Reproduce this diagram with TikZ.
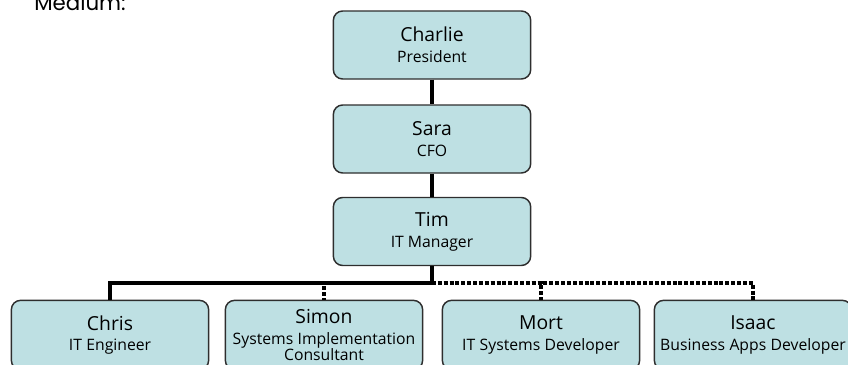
\documentclass[tikz,border=0pt]{standalone}
\usepackage{fontspec}
\setmainfont{Open Sans}
\newfontfamily\headfont{Poppins}
\usepackage{tikz}
\usetikzlibrary{positioning}
\definecolor{boxteal}{HTML}{BEE0E3}
\definecolor{boxline}{HTML}{2E2E2E}
\tikzset{
  % organisation chart
  person/.style={draw=boxline,fill=boxteal,line width=1.1pt,rounded corners=7pt,
                 minimum width=148pt,minimum height=51pt,align=center,inner sep=1pt},
  staff/.style={person,minimum width=146pt,minimum height=52pt,text width=146pt},
  tie/.style={draw=black,line width=3pt},
  dotted tie/.style={draw=black,line width=3pt,dash pattern=on 3pt off 1.4pt},
}
\newcommand{\namefont}{\fontsize{14.5}{16}\selectfont}
\newcommand{\titlefont}{\fontsize{11.8}{14}\selectfont}
\newcommand{\who}[2]{\namefont #1\\[3.5pt]\titlefont #2}
\begin{document}
\begin{tikzpicture}[x=0.75pt,y=-0.75pt]
\useasboundingbox (0,0) rectangle (848,364);
  \node[anchor=base west,inner sep=0pt,font=\headfont\fontsize{16}{18}\selectfont] (medium) at (34,11) {Medium:};
  % chain of command
  \node[person] (charlie) at (432,45) {\who{Charlie}{President}};
  \node[person] (sara) at (432,139) {\who{Sara}{CFO}};
  \node[person] (tim) at (432,231.5) {\who{Tim}{IT Manager}};
  % team
  \node[staff] (chris) at (110,335) {\who{Chris}{IT Engineer}};
  \node[staff] (simon) at (324,335) {\namefont Simon\\[2pt]\titlefont Systems Implementation\\[0pt]Consultant};
  \node[staff] (mort) at (541,335) {\who{Mort}{IT Systems Developer}};
  \node[staff] (isaac) at (753,335) {\who{Isaac}{Business Apps Developer}};
  \coordinate (bus) at (432,283);
  \draw[tie] (charlie) -- (sara);
  \draw[tie] (sara) -- (tim);
  \draw[tie] (tim) -- (bus) -| (chris);
  \draw[dotted tie] (bus) -| (simon);
  \draw[dotted tie] (bus) -| (mort);
  \draw[dotted tie] (bus) -| (isaac);
\end{tikzpicture}
\end{document}
